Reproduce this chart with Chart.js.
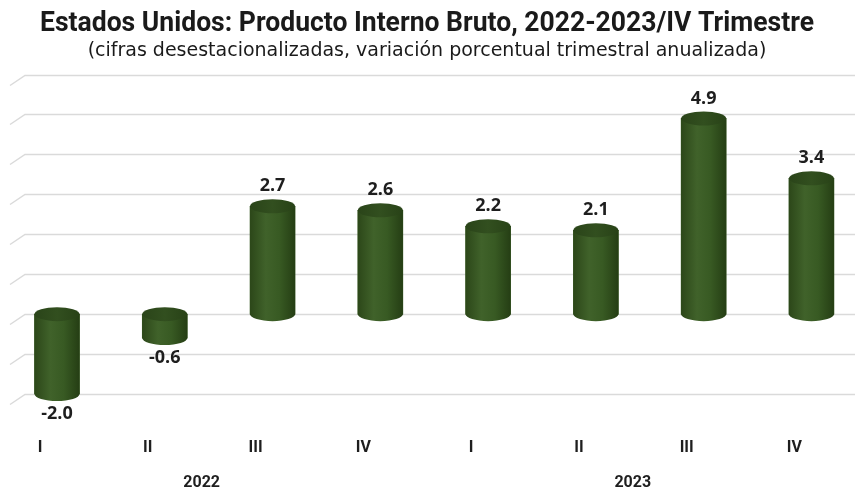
<!DOCTYPE html>
<html>
<head>
<meta charset="utf-8">
<script src="https://cdn.jsdelivr.net/npm/chart.js@4"></script>
<style>
  html, body { margin: 0; padding: 0; background: #fff; }
  #wrap { width: 855px; height: 492px; }
</style>
</head>
<body>
<div id="wrap"><canvas id="chart"></canvas></div>
<script>
// datos
const trimestres = ['I', 'II', 'III', 'IV', 'I', 'II', 'III', 'IV'];
const anios = ['2022', '2023'];
const pib = [-2.0, -0.6, 2.7, 2.6, 2.2, 2.1, 4.9, 3.4];

const ctx = document.getElementById('chart');

// rejilla con la esquina inclinada (efecto 3D)
const rejilla = {
  id: 'rejilla',
  beforeDatasetsDraw(chart) {
    const c = chart.ctx, y = chart.scales.y;
    c.save();
    c.strokeStyle = '#dadada';
    c.lineWidth = 1.5;
    for (let v = y.min; v <= y.max; v++) {
      const py = Math.round(y.getPixelForValue(v)) + 0.5;
      c.beginPath();
      c.moveTo(10, py + 10);
      c.lineTo(25, py);
      c.lineTo(chart.width, py);
      c.stroke();
    }
    c.restore();
  }
};

// cilindros + etiquetas de valor + anios
const cilindros = {
  id: 'cilindros',
  afterDatasetsDraw(chart) {
    const c = chart.ctx;
    const meta = chart.getDatasetMeta(0);
    c.save();
    meta.data.forEach((bar, i) => {
      const w = bar.width, x0 = bar.x - w / 2, x1 = bar.x + w / 2;
      const top = Math.min(bar.y, bar.base), bot = Math.max(bar.y, bar.base);
      const ry = 7;
      const g = c.createLinearGradient(x0, 0, x1, 0);
      g.addColorStop(0, '#2c4719');
      g.addColorStop(0.35, '#40622a');
      g.addColorStop(0.65, '#385a23');
      g.addColorStop(1, '#253e14');
      c.fillStyle = g;
      c.beginPath();
      c.moveTo(x0, top);
      c.lineTo(x0, bot);
      c.ellipse(bar.x, bot, w / 2, ry, 0, Math.PI, 0, true);
      c.lineTo(x1, top);
      c.closePath();
      c.fill();
      const g2 = c.createLinearGradient(x0, 0, x1, 0);
      g2.addColorStop(0, '#2a4419');
      g2.addColorStop(0.5, '#324f1f');
      g2.addColorStop(1, '#284217');
      c.fillStyle = g2;
      c.beginPath();
      c.ellipse(bar.x, top, w / 2, ry, 0, 0, Math.PI * 2);
      c.fill();

      const v = pib[i];
      c.fillStyle = '#1e1e1e';
      c.font = 'bold 18px "Open Sans", sans-serif';
      c.textAlign = 'center';
      if (v >= 0) {
        c.textBaseline = 'bottom';
        c.fillText(v.toFixed(1), bar.x, top - ry - 4);
      } else {
        c.textBaseline = 'top';
        c.fillText(v.toFixed(1), bar.x, bot + ry + 4);
      }
    });

    // anios centrados bajo cada grupo de 4 trimestres
    const xs = chart.scales.x;
    c.font = 'bold 16px "Liberation Sans Narrow", Roboto, sans-serif';
    c.fillStyle = '#1e1e1e';
    c.textAlign = 'center';
    c.textBaseline = 'middle';
    anios.forEach((a, k) => {
      const px = (xs.getPixelForValue(k * 4 + 1) + xs.getPixelForValue(k * 4 + 2)) / 2 - 17;
      c.fillText(a, px, 483);
    });
    c.restore();
  }
};

new Chart(ctx, {
  type: 'bar',
  data: {
    labels: trimestres,
    datasets: [{
      data: pib,
      backgroundColor: '#385a23',
      barThickness: 45,
      clip: false
    }]
  },
  options: {
    responsive: true,
    maintainAspectRatio: false,
    animation: false,
    layout: { padding: { left: 40, right: 41, top: 0, bottom: 0 } },
    plugins: {
      legend: { display: false },
      tooltip: { enabled: false },
      title: {
        display: true,
        text: 'Estados Unidos: Producto Interno Bruto, 2022-2023/IV Trimestre',
        color: '#1a1a1a',
        font: { family: 'Roboto', size: 27, weight: 'bold', lineHeight: 1.1 },
        padding: { top: 9, bottom: 1 }
      },
      subtitle: {
        display: true,
        text: '(cifras desestacionalizadas, variación porcentual trimestral anualizada)',
        color: '#1a1a1a',
        font: { family: '"DejaVu Sans"', size: 19, lineHeight: 1.2 },
        padding: { top: 0, bottom: 12 }
      }
    },
    scales: {
      x: {
        offset: false,
        grid: { display: false },
        border: { display: false },
        afterFit(scale) { scale.height = 98; },
        ticks: {
          color: '#1e1e1e',
          padding: 36,
          labelOffset: -17,
          maxRotation: 0,
          autoSkip: false,
          font: { family: '"Liberation Sans Narrow", Roboto, sans-serif', size: 16, weight: 'bold' }
        }
      },
      y: {
        min: -2,
        max: 6,
        ticks: { display: false, stepSize: 1 },
        grid: { display: false },
        border: { display: false },
        afterFit(scale) { scale.width = 17; }
      }
    }
  },
  plugins: [rejilla, cilindros]
});
</script>
</body>
</html>
